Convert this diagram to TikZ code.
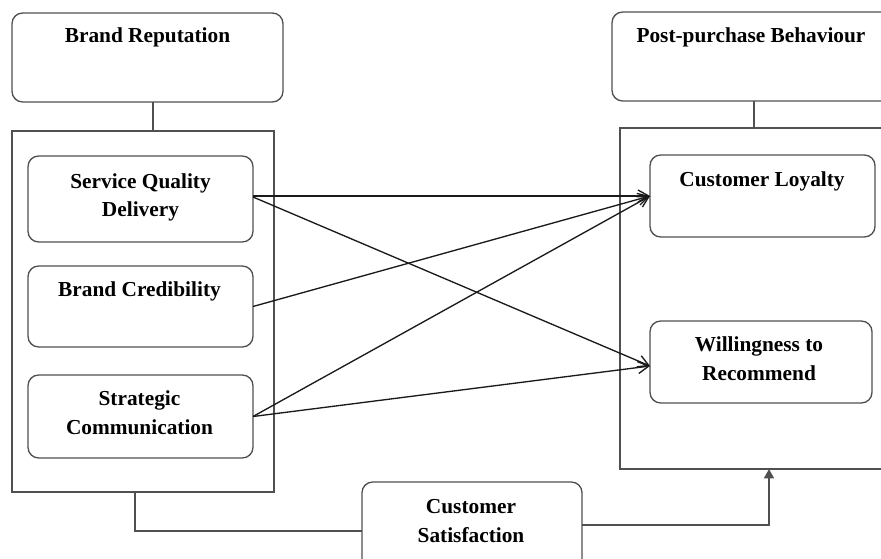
\documentclass[tikz,border=0pt]{standalone}
\usepackage{fontspec}
\setmainfont{Liberation Serif}
\usetikzlibrary{arrows.meta,calc,fit}
\definecolor{linegray}{HTML}{505050}
\definecolor{arrowblack}{HTML}{1A1A1A}
\begin{document}
\begin{tikzpicture}[x=0.75pt,y=-0.75pt,
  box/.style={draw=linegray,line width=1pt,rounded corners=8pt,inner sep=0pt,outer sep=0pt},
  frame/.style={draw=linegray,line width=1pt,inner sep=0pt,outer sep=0pt},
  lbl/.style={font=\bfseries\fontsize{16}{21.5}\selectfont,align=center,anchor=base,inner sep=0pt,text=black},
  arr/.style={draw=arrowblack,line width=1pt,-{Straight Barb[length=8pt,width=9pt]}},
  conn/.style={draw=linegray,line width=1pt}]
\useasboundingbox (0,0) rectangle (881,559);
\clip (0,0) rectangle (881,559);
% containers
\node[frame, fit={(12,131)(274,492)}] (LC) {};
\node[frame, fit={(620,128)(900,469)}] (RC) {};
% boxes
\node[box, fit={(12,13)(283,102)}] (BR) {};
\node[box, fit={(28,156)(253,242)}] (SQD) {};
\node[box, fit={(28,266)(253,347)}] (BC) {};
\node[box, fit={(28,375)(253,458)}] (SC) {};
\node[box, fit={(612,12)(896,101)}] (PPB) {};
\node[box, fit={(650,155)(875,237)}] (CL) {};
\node[box, fit={(650,321)(872,403)}] (WR) {};
\node[box, fit={(362,482)(582,580)}] (CS) {};
% labels (multi-line: base = last baseline)
\node[lbl] (BRt) at (147.5,43) {Brand Reputation};
\node[lbl] (SQDt) at (140.5,217) {Service Quality\\Delivery};
\node[lbl] (BCt) at (139.5,297) {Brand Credibility};
\node[lbl] (SCt) at (139.5,434) {Strategic\\Communication};
\node[lbl] (PPBt) at (751,43) {Post-purchase Behaviour};
\node[lbl] (CLt) at (762,187) {Customer Loyalty};
\node[lbl] (WRt) at (759,380) {Willingness to\\Recommend};
\node[lbl] (CSt) at (471,542) {Customer\\Satisfaction};
% helper coordinates
\coordinate (brx) at (153,0);
\coordinate (ppx) at (754,0);
\coordinate (lcx) at (135,0);
\coordinate (rcx) at (769,0);
% structural connectors
\draw[conn] (BR.south -| brx) -- (LC.north -| brx);
\draw[conn] (PPB.south -| ppx) -- (RC.north -| ppx);
\draw[conn] (LC.south -| lcx) |- (CS.west);
\draw[conn,-{Triangle[length=7pt,width=7.5pt]}] ([yshift=4.5pt]CS.east) -| (RC.south -| rcx);
% arrows
\draw[arr] (SQD.east |- CL.west) -- (CL.west);
\draw[arr] ([yshift=1.5pt]SQD.east) -- ([yshift=-3pt]WR.west);
\draw[arr] (BC.east) -- (CL.west);
\draw[arr] (SC.east) -- (CL.west);
\draw[arr] (SC.east) -- ([yshift=-3pt]WR.west);
\end{tikzpicture}
\end{document}
